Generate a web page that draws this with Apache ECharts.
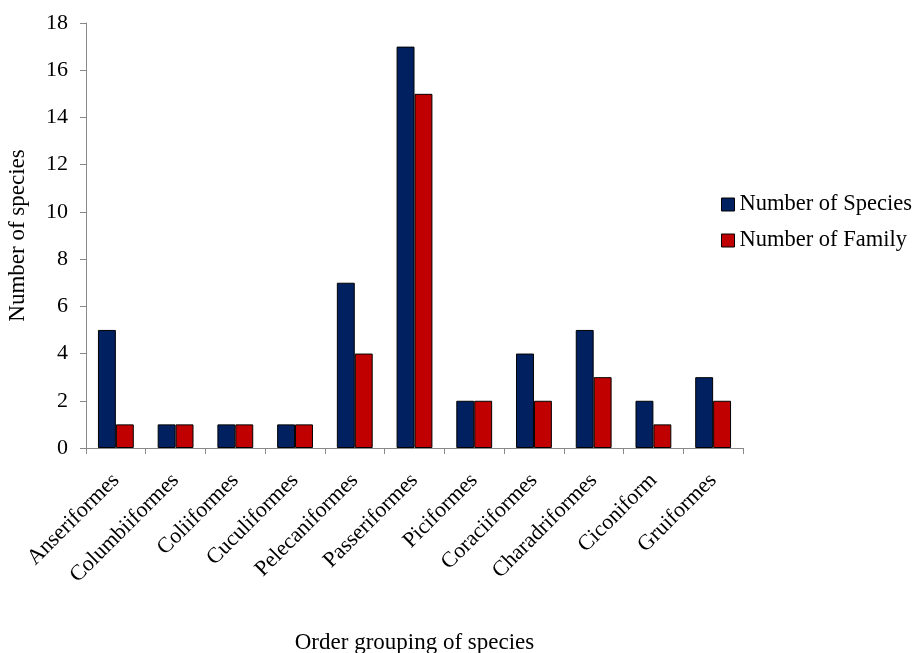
<!DOCTYPE html>
<html><head><meta charset="utf-8">
<script src="https://cdn.jsdelivr.net/npm/echarts@6/dist/echarts.min.js"></script>
<style>html,body{margin:0;padding:0;background:#fff}#c{width:919px;height:653px}</style>
</head><body><div id="c"></div>
<script>
const categories = ['Anseriformes','Columbiiformes','Coliiformes','Cuculiformes','Pelecaniformes','Passeriformes','Piciformes','Coraciiformes','Charadriformes','Ciconiform','Gruiformes'];
const speciesValues = [5,1,1,1,7,17,2,4,5,2,3];
const familyValues = [1,1,1,1,4,15,2,2,3,1,2];
const yTicks = [0,2,4,6,8,10,12,14,16,18];

const font = '"Liberation Serif", "Times New Roman", serif';
const chart = echarts.init(document.getElementById('c'), null, {renderer:'canvas'});
chart.setOption({
  animation:false,
  backgroundColor:'#fff',
  textStyle:{fontFamily:font},
  grid:{left:86,right:176,top:23,bottom:205,containLabel:false,outerBoundsMode:'none'},
  legend:{
    orient:'vertical', left:716, top:188, itemWidth:13, itemHeight:13, itemGap:13,
    icon:'rect',
    textStyle:{fontFamily:font,fontSize:22.5,color:'#000'},
    data:[
      {name:'Number of Species',itemStyle:{color:'#002060',borderColor:'#000',borderWidth:1}},
      {name:'Number of Family',itemStyle:{color:'#C00000',borderColor:'#000',borderWidth:1}}
    ]
  },
  xAxis:{
    type:'category', data:categories,
    name:'Order grouping of species', nameLocation:'middle', nameGap:183,
    nameTextStyle:{fontFamily:font,fontSize:23,color:'#000'},
    axisLine:{lineStyle:{color:'#888',width:1}},
    axisTick:{show:true,alignWithLabel:false,length:6,lineStyle:{color:'#888'}},
    axisLabel:{rotate:45,fontFamily:font,fontSize:22,color:'#000',margin:29,interval:0}
  },
  yAxis:{
    type:'value', min:yTicks[0], max:yTicks[yTicks.length-1], interval:2,
    name:'Number of species', nameLocation:'middle', nameGap:57,
    nameTextStyle:{fontFamily:font,fontSize:23,color:'#000'},
    axisLine:{show:true,lineStyle:{color:'#888',width:1}},
    axisTick:{show:true,length:6,lineStyle:{color:'#888'}},
    splitLine:{show:false},
    axisLabel:{fontFamily:font,fontSize:22,color:'#000',margin:18}
  },
  series:[
    {name:'Number of Species',type:'bar',data:speciesValues,barGap:'0%',barCategoryGap:'40%',
     itemStyle:{color:'#002060',borderColor:'#000',borderWidth:1}},
    {name:'Number of Family',type:'bar',data:familyValues,barGap:'0%',barCategoryGap:'40%',
     itemStyle:{color:'#C00000',borderColor:'#000',borderWidth:1}}
  ]
});
</script></body></html>
